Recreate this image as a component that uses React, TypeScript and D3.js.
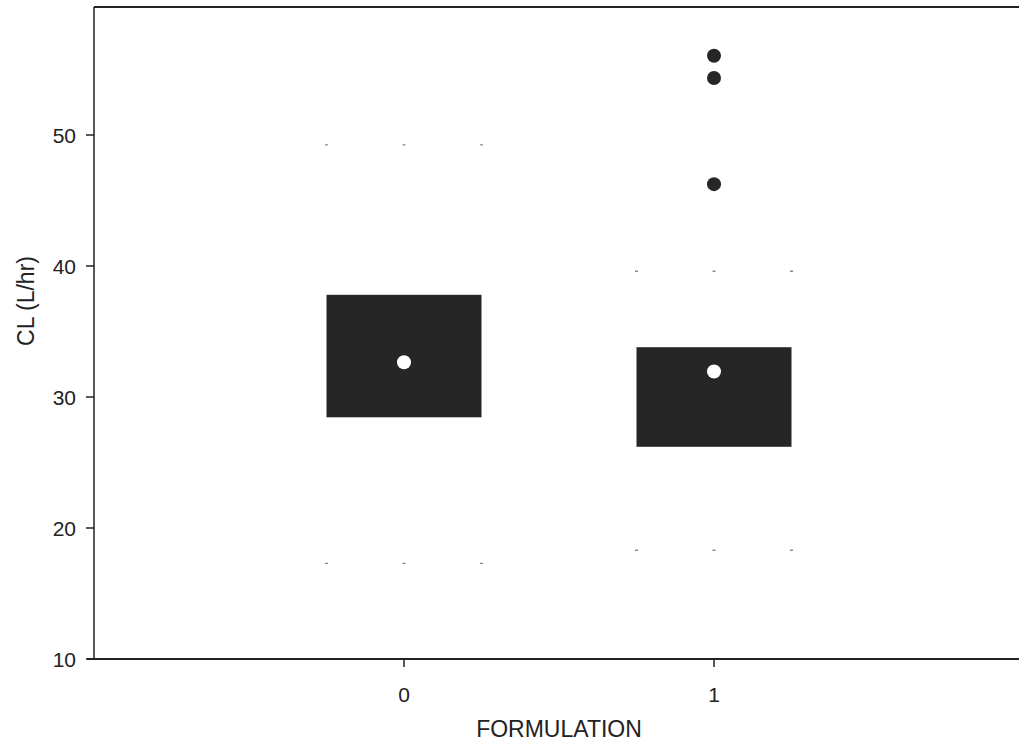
import React from "react";
import * as d3 from "d3";

const categories = [0, 1];
const q1 = [28.45, 26.2];
const medians = [32.65, 31.95];
const q3 = [37.8, 33.8];
const whiskerLow = [17.3, 18.3];
const whiskerHigh = [49.25, 39.6];
const outliers: [number, number][] = [
  [1, 56.05],
  [1, 54.35],
  [1, 46.25],
];
const yTicks = [10, 20, 30, 40, 50];
const xTicks = [0, 1];

const W = 1019;
const H = 746;
const left = 94;
const top = 7;
const bottom = 659;

export default function App() {
  const x = d3.scaleLinear().domain([-1, 2]).range([left, left + 930]);
  const y = d3.scaleLinear().domain([10, 60]).range([bottom, bottom - 655]);
  const halfW = x(0.25) - x(0);
  const font = "'Liberation Sans', Arial, Helvetica, sans-serif";
  const ink = "#222";
  const fs = 21;
  const fsTitle = 23;

  return (
    <svg
      width={W}
      height={H}
      style={{ position: "absolute", left: 0, top: 0, background: "#fff" }}
    >
      {/* frame */}
      <line x1={left} x2={W} y1={top} y2={top} stroke={ink} strokeWidth={2} />
      <line x1={left} x2={left} y1={top} y2={bottom} stroke={ink} strokeWidth={1.5} />
      <line x1={left - 7} x2={W} y1={bottom} y2={bottom} stroke={ink} strokeWidth={2} />

      {/* y ticks */}
      {yTicks.map((t) => (
        <g key={t}>
          <line x1={left - 8} x2={left} y1={y(t)} y2={y(t)} stroke={ink} strokeWidth={1.5} />
          <text
            x={left - 18}
            y={y(t)}
            dy="0.36em"
            textAnchor="end"
            fontFamily={font}
            fontSize={fs}
            fill={ink}
          >
            {t}
          </text>
        </g>
      ))}

      {/* x ticks */}
      {xTicks.map((t) => (
        <g key={t}>
          <line x1={x(t)} x2={x(t)} y1={bottom} y2={bottom + 8} stroke={ink} strokeWidth={1.5} />
          <text
            x={x(t)}
            y={bottom + 43}
            textAnchor="middle"
            fontFamily={font}
            fontSize={fs}
            fill={ink}
          >
            {t}
          </text>
        </g>
      ))}

      <text
        x={559}
        y={737}
        textAnchor="middle"
        fontFamily={font}
        fontSize={fsTitle}
        fill={ink}
      >
        FORMULATION
      </text>
      <text
        transform={`translate(34,${301}) rotate(-90)`}
        textAnchor="middle"
        fontFamily={font}
        fontSize={fsTitle}
        fill={ink}
      >
        CL (L/hr)
      </text>

      {/* boxes */}
      {categories.map((c, i) => (
        <g key={c}>
          {[whiskerHigh[i], whiskerLow[i]].map((v, k) => (
            <line
              key={k}
              x1={x(c) - halfW - 1.5}
              x2={x(c) + halfW + 1.5}
              y1={y(v)}
              y2={y(v)}
              stroke="#888"
              strokeWidth={1.3}
              strokeDasharray={`3 ${halfW - 3}`}
            />
          ))}
          <rect
            x={x(c) - halfW}
            y={y(q3[i])}
            width={2 * halfW}
            height={y(q1[i]) - y(q3[i])}
            fill="#262626"
          />
          <circle cx={x(c)} cy={y(medians[i])} r={7} fill="#fff" />
        </g>
      ))}

      {outliers.map(([c, v], i) => (
        <circle key={i} cx={x(c)} cy={y(v)} r={7} fill="#262626" />
      ))}
    </svg>
  );
}
